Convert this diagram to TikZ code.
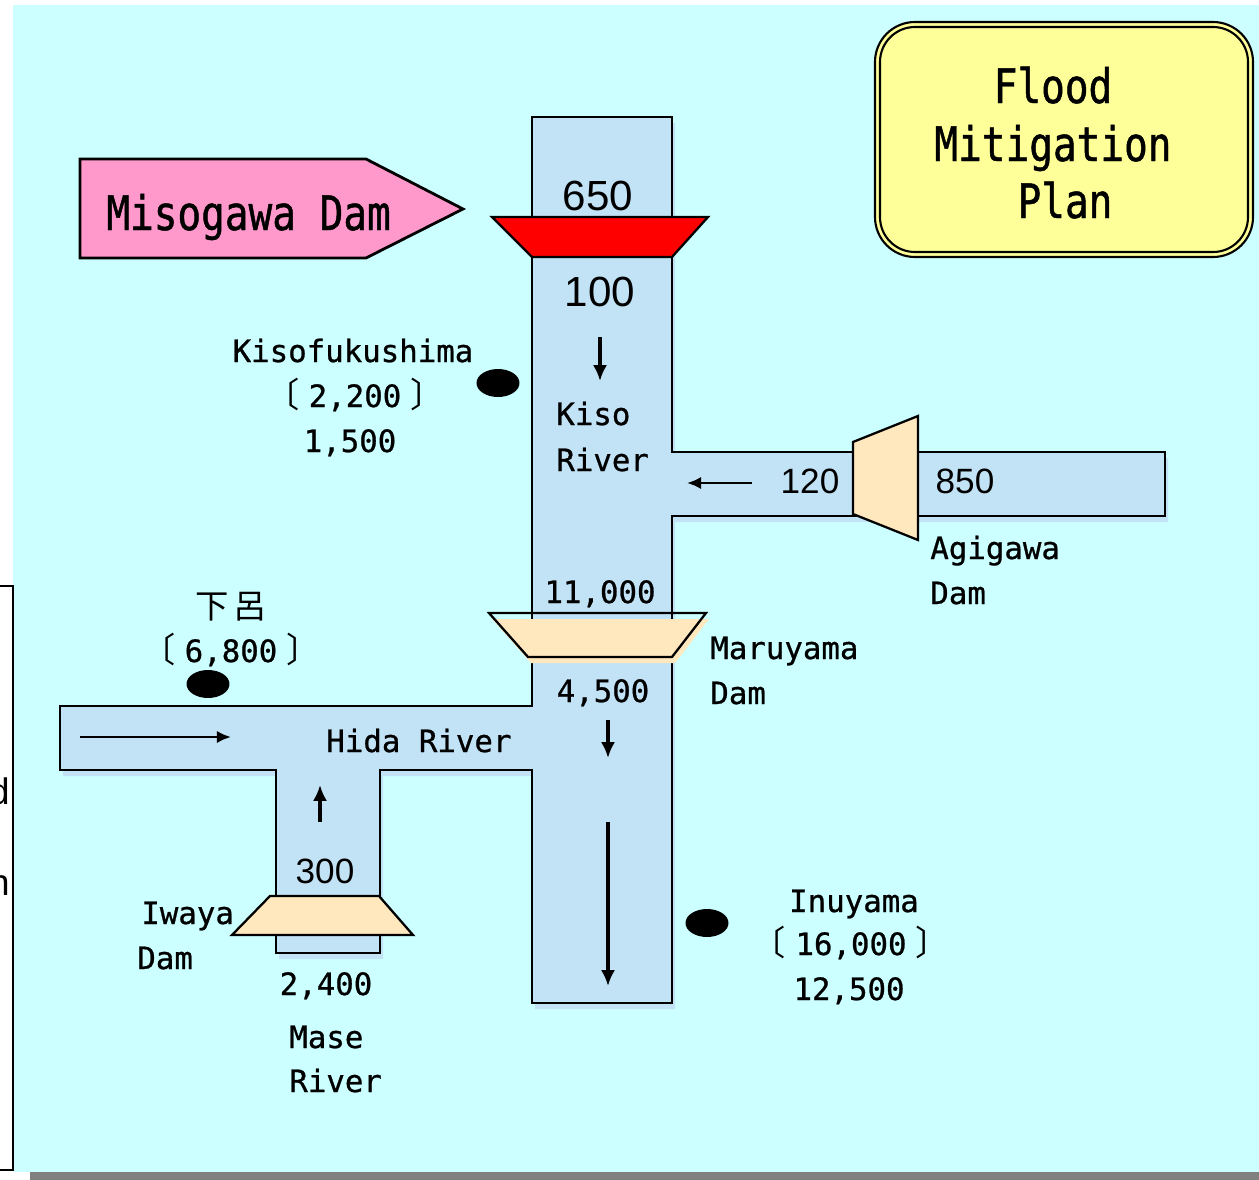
\documentclass[tikz,border=0pt]{standalone}
\usepackage{fontspec}
\setmainfont{Liberation Sans}
\newfontfamily\mono[FakeBold=0.8]{DejaVu Sans Mono}
\newfontfamily\monoN[FakeStretch=0.83,FakeBold=1]{DejaVu Sans Mono}
\newfontfamily\cjk{Noto Sans CJK JP}
\usetikzlibrary{arrows.meta,shapes.geometric}
\definecolor{bgcyan}{RGB}{204,255,255}
\definecolor{river}{RGB}{194,226,245}
\definecolor{peach}{RGB}{255,231,190}
\definecolor{pinkbox}{RGB}{255,153,204}
\definecolor{yellowbox}{RGB}{255,255,153}
\definecolor{graybar}{RGB}{128,128,128}
\newcommand\riverpoly{(532,117) -- (672,117) -- (672,452) -- (1165,452) -- (1165,516) -- (672,516) -- (672,1003) -- (532,1003) -- (532,770) -- (380,770) -- (380,953) -- (276,953) -- (276,770) -- (60,770) -- (60,706) -- (532,706) -- cycle}
\newcommand\lb[1]{{\cjk\fontsize{19.5}{20}\selectfont 〔}\hspace{0.3em}#1\hspace{0.3em}{\cjk\fontsize{19.5}{20}\selectfont 〕}}
\tikzset{
 lbl/.style={font=\mono\fontsize{17.5}{20}\selectfont, inner sep=0pt, anchor=base},
 lblw/.style={lbl, anchor=base west},
 big/.style={font=\monoN\fontsize{27}{30}\selectfont, inner sep=0pt, anchor=base},
 num/.style={font=\fontsize{20}{22}\selectfont, inner sep=0pt, anchor=base},
 numb/.style={font=\fontsize{24}{26}\selectfont, inner sep=0pt, anchor=base},
 flow/.style={line width=1.8pt, -{Latex[length=9pt,width=8pt]}},
 thinflow/.style={line width=1.4pt, -{Latex[length=8pt,width=7pt]}},
 outl/.style={draw=black, line width=1.3pt, line join=miter},
 dot/.style={ellipse, fill=black, inner sep=0pt, minimum width=0.86cm, minimum height=0.56cm},
}
\begin{document}
\begin{tikzpicture}[x=0.02cm,y=-0.02cm]
\useasboundingbox (0,0) rectangle (1259,1180);
% background
\fill[white] (0,0) rectangle (1259,1180);
\fill[bgcyan] (13,5) rectangle (1259,1172);
\fill[graybar] (30,1172) rectangle (1259,1180);
\draw[line width=1.5pt] (0,586) -- (13,586) -- (13,1170) -- (0,1170);
\node[font=\fontsize{21}{22}\selectfont, anchor=base east, inner sep=0pt] (cutd) at (10,804) {d};
\node[font=\fontsize{21}{22}\selectfont, anchor=base east, inner sep=0pt] (cutn) at (10,895) {n};
% rivers
\fill[river, shift={(3,6)}] \riverpoly;
\path[fill=river, outl] \riverpoly;
% Misogawa dam (red)
\path[fill=red, outl] (492,217) -- (708,217) -- (672,257) -- (532,257) -- cycle;
% Maruyama dam
\fill[peach, shift={(3,6)}] (489,613) -- (706,613) -- (672,657) -- (528,657) -- cycle;
\draw[outl] (489,613) -- (706,613) -- (672,657) -- (528,657) -- cycle;
% Agigawa dam
\path[fill=peach, outl] (853,442) -- (918,416) -- (918,540) -- (853,514) -- cycle;
% Iwaya dam
\path[fill=peach, outl] (270,896) -- (379,896) -- (413,935) -- (232,935) -- cycle;
% Misogawa Dam arrow box
\path[fill=pinkbox, draw=black, line width=1.6pt] (80,159) -- (366,159) -- (463,209) -- (366,258) -- (80,258) -- cycle;
\node[big, anchor=base west] (miso) at (106,230) {Misogawa Dam};
% Flood box
\path[fill=yellowbox, draw=black, line width=1.2pt, rounded corners=0.8cm] (875,22) rectangle (1253,257);
\draw[line width=1.2pt, rounded corners=0.7cm] (880,27) rectangle (1248,252);
\node[big] (fl1) at (1053,103) {Flood};
\node[big] (fl2) at (1053,161) {Mitigation};
\node[big] (fl3) at (1065,218) {Plan};
% arrows
\draw[flow] (600,337) -- (600,381);
\draw[thinflow] (752,483) -- (687,483);
\draw[flow] (608,720) -- (608,758);
\draw[flow] (608,822) -- (608,986);
\draw[thinflow] (80,737) -- (231,737);
\draw[flow] (320,822) -- (320,785);
% dots
\node[dot] (dkf) at (498,383) {};
\node[dot] (dgero) at (208,684) {};
\node[dot] (dinu) at (707,923) {};
% numbers (proportional)
\node[numb] (n650) at (598,210) {650};
\node[numb] (n100) at (600,306) {100};
\node[num] (n120) at (810,493) {120};
\node[num] (n850) at (965,493) {850};
\node[num] (n300) at (325,883) {300};
% labels
\node[lbl] (kf1) at (353,362) {Kisofukushima};
\node[lbl] (kf2) at (355,407) {\lb{2,200}};
\node[lbl] (kf3) at (350,452) {1,500};
\node[lblw] (kiso1) at (556,425) {Kiso};
\node[lblw] (kiso2) at (556,471) {River};
\node[lblw] (agi1) at (930,559) {Agigawa};
\node[lblw] (agi2) at (930,604) {Dam};
\node[lblw] (maru1) at (710,659) {Maruyama};
\node[lblw] (maru2) at (710,704) {Dam};
\node[lbl] (n11000) at (600,603) {11,000};
\node[lbl] (n4500) at (603,702) {4,500};
\node[lblw] (hida) at (326,752) {Hida River};
\node[lblw] (iwa1) at (141,924) {Iwaya};
\node[lblw] (iwa2) at (137,969) {Dam};
\node[lbl] (n2400) at (326,995) {2,400};
\node[lblw] (mase1) at (289,1048) {Mase};
\node[lblw] (mase2) at (289,1092) {River};
\node[lbl] (inu1) at (854,912) {Inuyama};
\node[lbl] (inu2) at (851,955) {\lb{16,000}};
\node[lbl] (inu3) at (849,1000) {12,500};
\node[lbl] (gero1) at (231,618) {\cjk\fontsize{19}{20}\selectfont 下\hspace{0.15em}呂};
\node[lbl] (gero2) at (231,662) {\lb{6,800}};
\end{tikzpicture}
\end{document}
